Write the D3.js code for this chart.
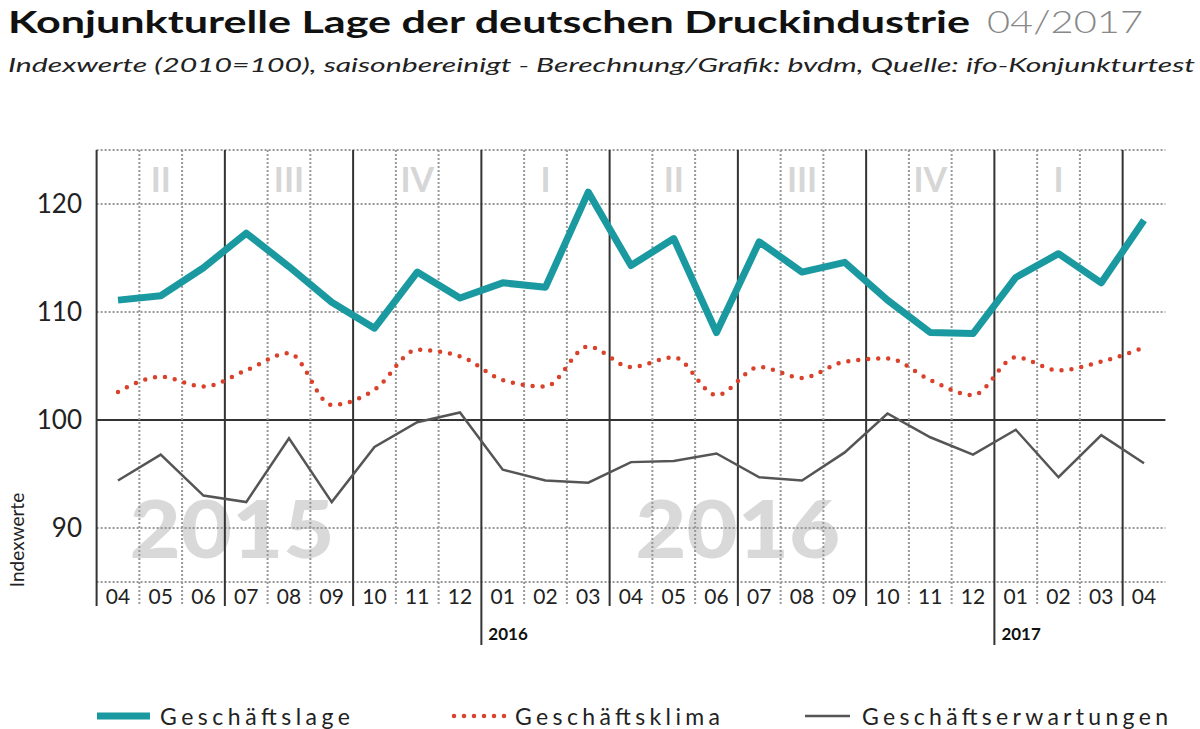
<!DOCTYPE html>
<html><head><meta charset="utf-8">
<script src="https://cdn.jsdelivr.net/npm/d3@7"></script>
<style>body{margin:0;background:#fff}svg{display:block}</style>
</head><body>
<svg id="c" width="1200" height="729"></svg>
<script>
const months = ["04","05","06","07","08","09","10","11","12","01","02","03","04","05","06","07","08","09","10","11","12","01","02","03","04"];
const lage = [111.1,111.5,114.1,117.3,114.2,110.9,108.5,113.7,111.3,112.7,112.3,121.1,114.3,116.8,108.1,116.5,113.7,114.6,111.1,108.1,108.0,113.2,115.4,112.7,118.5];
const klima = [102.6,104.0,103.1,104.6,106.2,101.4,102.8,106.5,105.9,103.7,103.1,106.8,104.9,105.8,102.3,104.9,103.9,105.4,105.7,103.7,102.3,105.8,104.6,105.4,106.7];
const erwart = [94.4,96.8,93.0,92.4,98.3,92.4,97.5,99.8,100.7,95.4,94.4,94.2,96.1,96.2,96.9,94.7,94.4,97.0,100.6,98.4,96.8,99.1,94.7,98.6,96.0];
const yTicks = [90,100,110,120];
const quarters = ["II","III","IV","I","II","III","IV","I"];
const yearMarks = [{i:9,label:"2016"},{i:21,label:"2017"}];
const bigYears = [{i:2.67,label:"2015"},{i:14.5,label:"2016"}];

const svg = d3.select("#c");
const x = d3.scaleLinear().domain([-0.5,24.5]).range([96.6,1165.4]);
const y = d3.scaleLinear().domain([85,125]).range([582,150]);
const F = "Lato, 'Open Sans', sans-serif";

// Title
svg.append("text").attr("x",8).attr("y",33).attr("font-family",F).attr("font-size",31).attr("font-weight","bold")
  .attr("fill","#111").attr("textLength",962).attr("lengthAdjust","spacingAndGlyphs").text("Konjunkturelle Lage der deutschen Druckindustrie");
svg.append("text").attr("x",987).attr("y",33).attr("font-family",F).attr("font-size",31).attr("font-weight","300")
  .attr("fill","#888").attr("textLength",156).attr("lengthAdjust","spacingAndGlyphs").text("04/2017");
svg.append("text").attr("x",8).attr("y",72).attr("font-family",F).attr("font-size",20).attr("font-style","italic").attr("fill","#222")
  .attr("textLength",1187).attr("lengthAdjust","spacingAndGlyphs")
  .text("Indexwerte (2010=100), saisonbereinigt  -  Berechnung/Grafik: bvdm, Quelle: ifo-Konjunkturtest");

// big year watermarks
bigYears.forEach(b=>svg.append("text").attr("x",x(b.i)).attr("y",558).attr("text-anchor","middle")
  .attr("font-family",F).attr("font-weight","900").attr("font-size",80).attr("fill","#d9d9d9")
  .attr("textLength",205).attr("lengthAdjust","spacingAndGlyphs").text(b.label));
// quarter labels
quarters.forEach((q,k)=>svg.append("text").attr("x",x(1+3*k)).attr("y",192).attr("text-anchor","middle")
  .attr("font-family",F).attr("font-weight","bold").attr("font-size",34).attr("fill","#d6d6d6").text(q));

// horizontal grid
[85,90,110,120,125].forEach(v=>svg.append("line").attr("x1",x(-0.5)).attr("x2",x(24.5)).attr("y1",y(v)).attr("y2",y(v))
  .attr("stroke","#999").attr("stroke-width",2).attr("stroke-dasharray","2,2"));
svg.append("line").attr("x1",x(-0.5)).attr("x2",x(24.5)).attr("y1",y(100)).attr("y2",y(100)).attr("stroke","#333").attr("stroke-width",2);

// vertical grid
for(let i=0;i<=24;i++){
  const bx = x(i-0.5);
  const solid = i%3===0;
  const isYear = yearMarks.some(m=>m.i===i);
  svg.append("line").attr("x1",bx).attr("x2",bx).attr("y1",150).attr("y2",isYear?645:606)
    .attr("stroke",solid?"#333":"#999").attr("stroke-width",2).attr("stroke-dasharray",solid?null:"2,2");
}
// month labels
months.forEach((m,i)=>svg.append("text").attr("x",x(i)).attr("y",604).attr("text-anchor","middle")
  .attr("font-family",F).attr("font-size",21).attr("fill","#222").text(m));
yearMarks.forEach(m=>svg.append("text").attr("x",x(m.i-0.5)+7).attr("y",640).attr("font-family",F)
  .attr("font-weight","bold").attr("font-size",17).attr("fill","#111").text(m.label));

// y axis labels
yTicks.forEach(v=>svg.append("text").attr("x",82).attr("y",y(v)+9).attr("text-anchor","end")
  .attr("font-family",F).attr("font-size",26).attr("fill","#222").text(v));
svg.append("text").attr("transform","translate(24,540) rotate(-90)").attr("text-anchor","middle")
  .attr("font-family",F).attr("font-size",19).attr("fill","#222").text("Indexwerte");

// lines
const lin = d3.line().x((d,i)=>x(i)).y(d=>y(d));
const smooth = d3.line().x((d,i)=>x(i)).y(d=>y(d)).curve(d3.curveMonotoneX);
svg.append("path").attr("d",lin(erwart)).attr("fill","none").attr("stroke","#555").attr("stroke-width",2.5);
svg.append("path").attr("d",smooth(klima)).attr("fill","none").attr("stroke","#d9412a").attr("stroke-width",4.5)
  .attr("stroke-linecap","round").attr("stroke-dasharray","0,10");
svg.append("path").attr("d",lin(lage)).attr("fill","none").attr("stroke","#1a9aa0").attr("stroke-width",7).attr("stroke-linejoin","round");

// legend
const lg = [{x1:97,x2:150,tx:160,len:190,label:"Geschäftslage",c:"#1a9aa0",w:7,da:null},
  {x1:454,x2:505,tx:515,len:205,label:"Geschäftsklima",c:"#d9412a",w:4.5,da:"0,10"},
  {x1:805,x2:850,tx:862,len:306,label:"Geschäftserwartungen",c:"#555",w:2.5,da:null}];
lg.forEach(l=>{
  svg.append("line").attr("x1",l.x1).attr("x2",l.x2).attr("y1",716).attr("y2",716).attr("stroke",l.c)
    .attr("stroke-width",l.w).attr("stroke-dasharray",l.da).attr("stroke-linecap",l.da?"round":"butt");
  svg.append("text").attr("x",l.tx).attr("y",725).attr("font-family",F).attr("font-size",23).attr("fill","#222")
    .attr("textLength",l.len).attr("lengthAdjust","spacing").text(l.label);
});
</script>
</body></html>
